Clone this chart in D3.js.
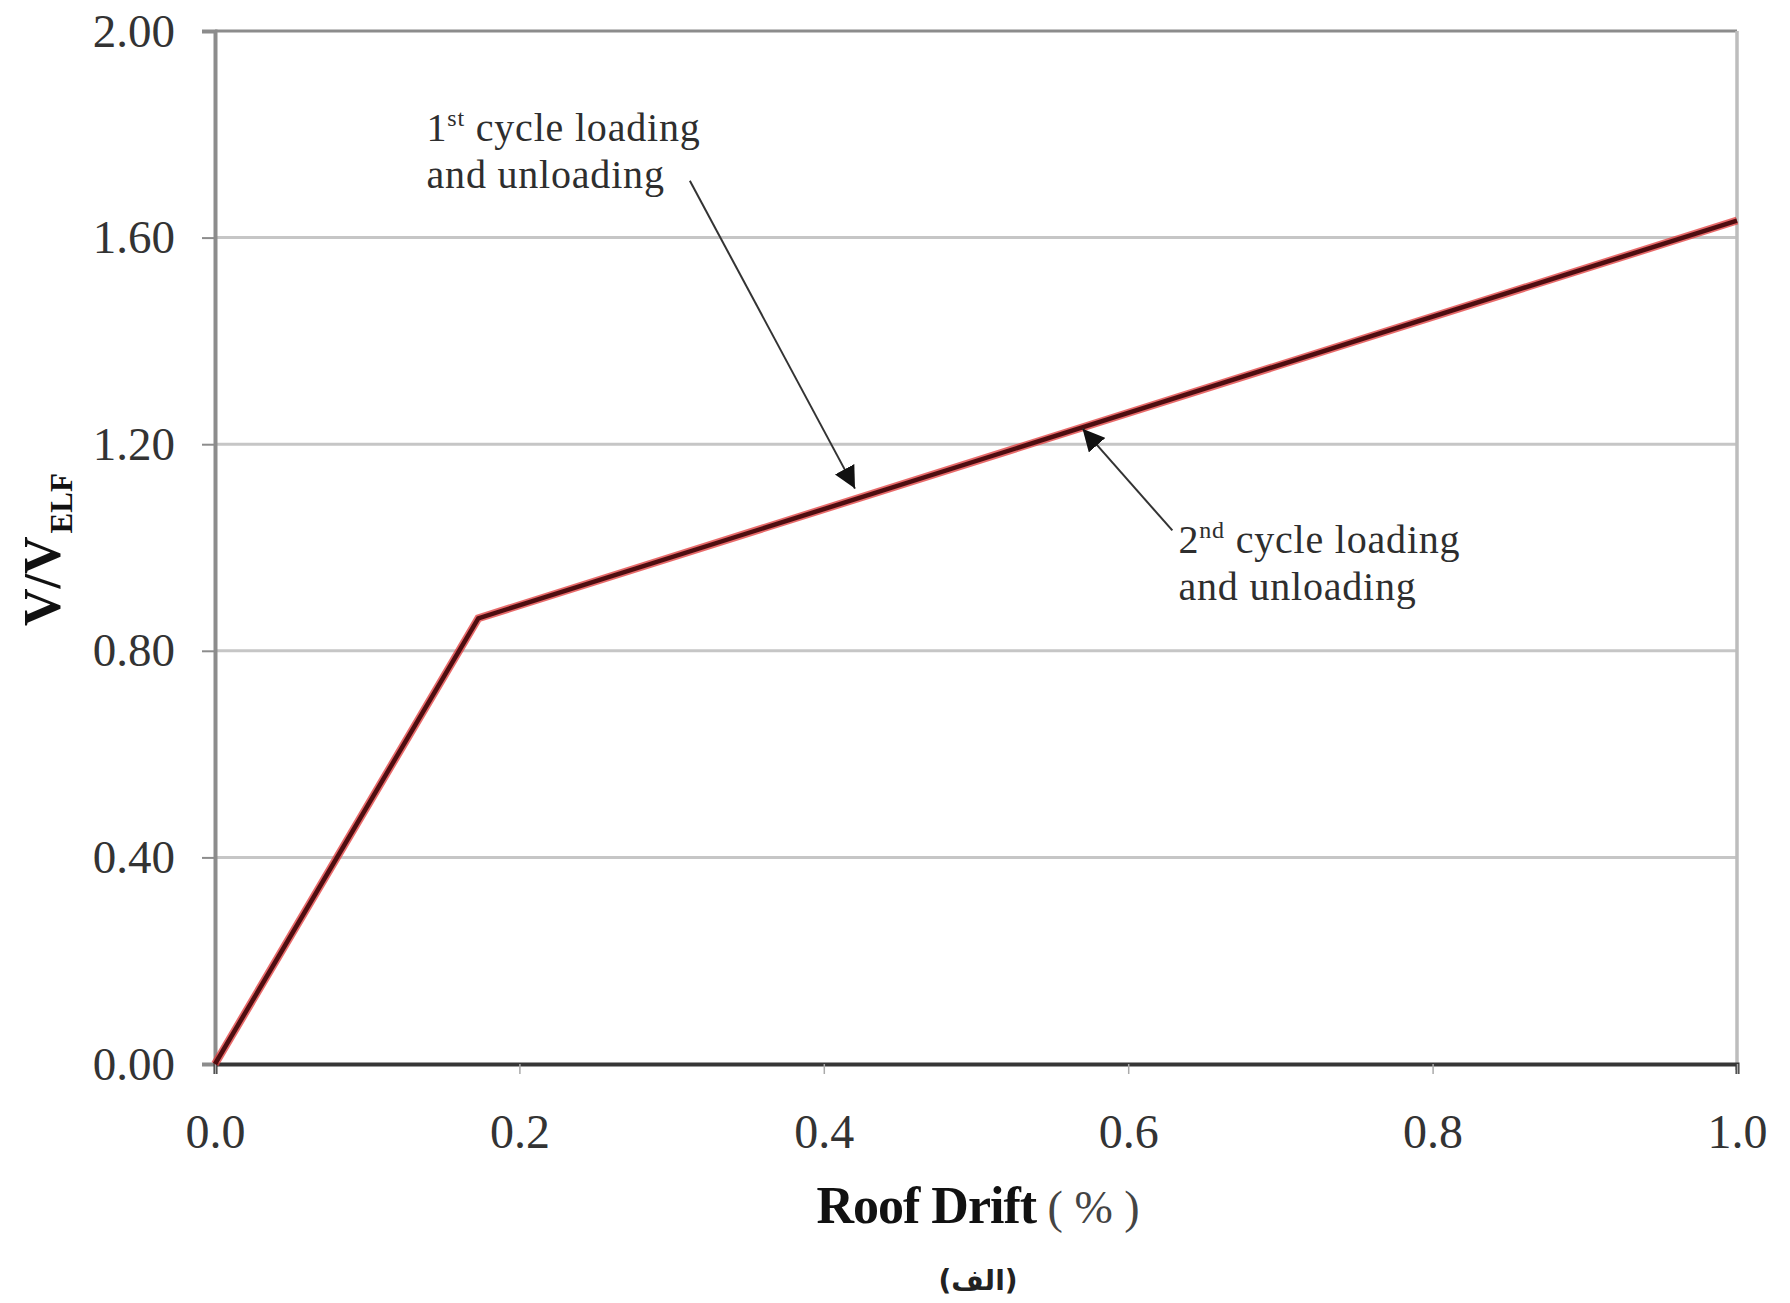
<!DOCTYPE html>
<html>
<head>
<meta charset="utf-8">
<script src="https://cdn.jsdelivr.net/npm/d3@7"></script>
<style>
  body { margin: 0; background: #fff; }
  svg { display: block; }
</style>
</head>
<body>
<svg id="chart" width="1790" height="1303"></svg>
<script>
// roof drift (%) vs V/V_ELF
const drift = [0, 0.173, 1.0];
const ratio = [0, 0.863, 1.633];

const xTicks = [0, 0.2, 0.4, 0.6, 0.8, 1.0];
const yTicks = [0, 0.4, 0.8, 1.2, 1.6, 2.0];

// annotation text lines, anchor (data coords) and arrow from/to (data coords)
const annLines = [["1", "st", " cycle loading", "and unloading"], ["2", "nd", " cycle loading", "and unloading"]];
const annText = [[0.139, 1.787], [0.633, 0.99]];
const annFrom = [[0.312, 1.71], [0.629, 1.033]];
const annTo = [[0.4205, 1.114], [0.570, 1.23]];

const svg = d3.select("#chart"),
  width = +svg.attr("width"),
  height = +svg.attr("height");

const margin = { top: 31, right: 53, bottom: 239, left: 215 };
const x = d3.scaleLinear().domain([0, 1]).range([margin.left, width - margin.right]);
const y = d3.scaleLinear().domain([0, 2]).range([height - margin.bottom, margin.top]);

svg.append("rect").attr("width", width).attr("height", height).attr("fill", "#fff");

// gridlines
svg.append("g")
  .selectAll("line")
  .data(yTicks.filter((d) => d > 0))
  .join("line")
  .attr("x1", x(0)).attr("x2", x(1))
  .attr("y1", (d) => y(d)).attr("y2", (d) => y(d))
  .attr("stroke", (d) => (d === 2 ? "#8c8c8c" : "#c6c6c6"))
  .attr("stroke-width", 3);

// right border
svg.append("line")
  .attr("x1", x(1)).attr("x2", x(1))
  .attr("y1", y(2)).attr("y2", y(0) + 6)
  .attr("stroke", "#bdbdbd").attr("stroke-width", 3.5);

// y axis
const yAxis = svg.append("g")
  .attr("transform", `translate(${x(0)},0)`)
  .call(d3.axisLeft(y).tickValues(yTicks).tickFormat(d3.format(".2f")).tickSize(13).tickPadding(27));
yAxis.select(".domain").attr("stroke", "#8c8c8c").attr("stroke-width", 4);
yAxis.selectAll(".tick line").attr("stroke", "#8c8c8c").attr("stroke-width", 2);
yAxis.selectAll(".tick text")
  .attr("font-family", "Liberation Serif, Times New Roman, serif")
  .attr("font-size", 47).attr("fill", "#333");

// x axis
const xAxis = svg.append("g")
  .attr("transform", `translate(0,${y(0)})`)
  .call(d3.axisBottom(x).tickValues(xTicks).tickFormat(d3.format(".1f")).tickSize(10).tickPadding(40));
xAxis.select(".domain").attr("stroke", "#363636").attr("stroke-width", 4);
xAxis.selectAll(".tick line").attr("stroke", "#aaa").attr("stroke-width", 1.5);
xAxis.selectAll(".tick text")
  .attr("font-family", "Liberation Serif, Times New Roman, serif")
  .attr("font-size", 48).attr("fill", "#333");

// curve: red fringe with dark core
const pts = drift.map((d, i) => [d, ratio[i]]);
const line = d3.line().x((d) => x(d[0])).y((d) => y(d[1]));
svg.append("path").datum(pts).attr("d", line)
  .attr("fill", "none").attr("stroke", "#e03a3a").attr("stroke-width", 8).attr("stroke-opacity", 0.75);
svg.append("path").datum(pts).attr("d", line)
  .attr("fill", "none").attr("stroke", "#4e0d10").attr("stroke-width", 4.5);

// arrows
svg.append("defs").append("marker")
  .attr("id", "head")
  .attr("viewBox", "0 0 10 10")
  .attr("refX", 10).attr("refY", 5)
  .attr("markerWidth", 11).attr("markerHeight", 11)
  .attr("markerUnits", "strokeWidth")
  .attr("orient", "auto")
  .append("path").attr("d", "M0,0 L10,5 L0,10 z").attr("fill", "#111");

svg.append("g")
  .selectAll("line")
  .data(annFrom)
  .join("line")
  .attr("x1", (d) => x(d[0])).attr("y1", (d) => y(d[1]))
  .attr("x2", (d, i) => x(annTo[i][0])).attr("y2", (d, i) => y(annTo[i][1]))
  .attr("stroke", "#333").attr("stroke-width", 2)
  .attr("marker-end", "url(#head)");

// annotation labels
annLines.forEach((l, i) => {
  const t = svg.append("text")
    .attr("x", x(annText[i][0])).attr("y", y(annText[i][1]))
    .attr("font-family", "Liberation Serif, Times New Roman, serif")
    .attr("font-size", 40).attr("letter-spacing", 0.8).attr("fill", "#2e2e2e");
  t.append("tspan").text(l[0]);
  t.append("tspan").attr("font-size", 24).attr("dy", -15).text(l[1]);
  t.append("tspan").attr("dy", 15).text(l[2]);
  t.append("tspan").attr("x", x(annText[i][0])).attr("dy", 47).text(l[3]);
});

// x title
const xt = svg.append("text")
  .attr("x", (x(0) + x(1)) / 2 + 2).attr("y", 1223)
  .attr("text-anchor", "middle")
  .attr("font-family", "Liberation Serif, Times New Roman, serif")
  .attr("fill", "#111");
xt.append("tspan").attr("font-weight", "bold").attr("font-size", 52).attr("letter-spacing", -1).text("Roof Drift");
xt.append("tspan").attr("font-size", 46).attr("fill", "#444").text(" ( % )");

svg.append("text")
  .attr("x", (x(0) + x(1)) / 2 + 2).attr("y", 1290)
  .attr("text-anchor", "middle")
  .attr("font-family", "DejaVu Sans, sans-serif")
  .attr("font-weight", "bold").attr("font-size", 28).attr("fill", "#222")
  .text("(الف)");

// y title
const yt = svg.append("text")
  .attr("transform", "translate(60,626) rotate(-90)")
  .attr("font-family", "Liberation Serif, Times New Roman, serif")
  .attr("font-weight", "bold").attr("fill", "#111");
yt.append("tspan").attr("font-size", 52).text("V/V");
yt.append("tspan").attr("font-size", 31).attr("dy", 12).attr("dx", 3).text("ELF");
</script>
</body>
</html>
